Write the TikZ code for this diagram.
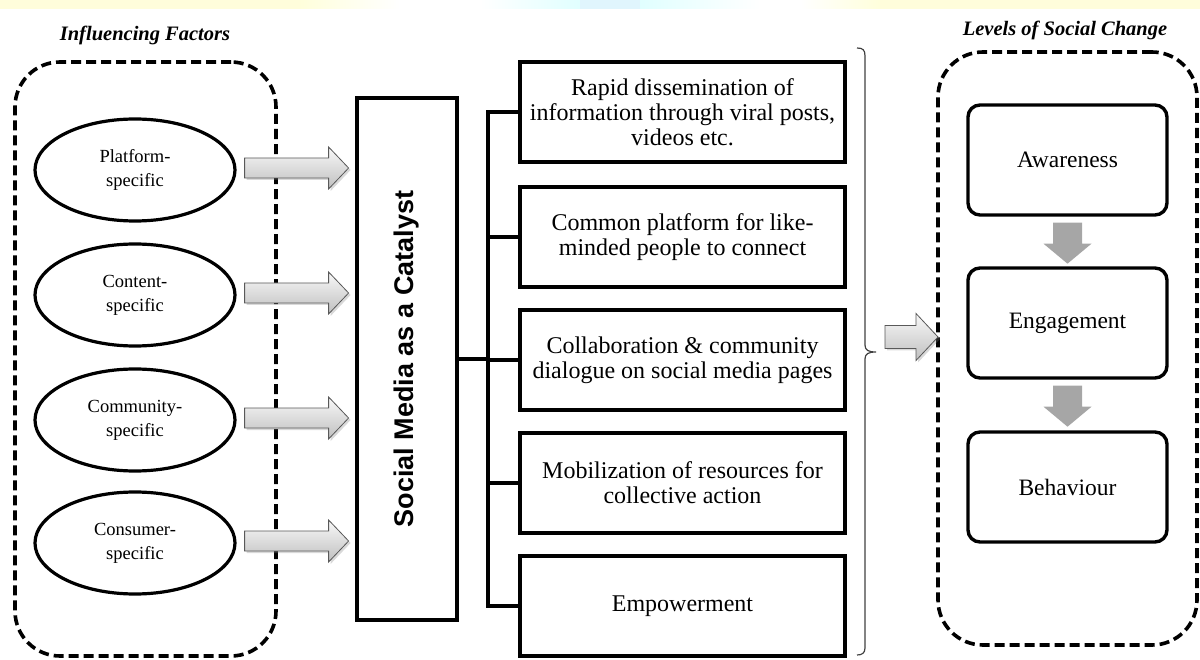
\documentclass[tikz,border=0pt]{standalone}
\usepackage{fontspec}
\setmainfont{Liberation Serif}
\setsansfont{Liberation Sans}
\usetikzlibrary{shapes.geometric,shadows,calc}
\newcommand{\myblockarrow}[5]{%
  \path[blockarr] (#1) ++(0,-#3) -- ++({#2-#5},0) -- ++(0,{-(#4-#3)}) -- ++(#5,#4) -- ++(-#5,#4) -- ++(0,{-(#4-#3)}) -- ++({-(#2-#5)},0) -- cycle;}
\newcommand{\mydownarrow}[1]{%
  \path[downarr] (#1) ++(-14.5,0) -- ++(29,0) -- ++(0,21) -- ++(9.5,0) -- ++(-24,20) -- ++(-24,-20) -- ++(9.5,0) -- cycle;}
\begin{document}
\begin{tikzpicture}[x=1pt,y=-1pt,
  dashbox/.style={draw, line width=3.6pt, dash pattern=on 10pt off 5pt, rounded corners=45pt, inner sep=0},
  fact/.style={ellipse, draw, line width=3.2pt, minimum width=200pt, minimum height=102pt, inner sep=0,
    font=\fontsize{18.5}{24}\selectfont, align=center},
  item/.style={draw, line width=3.4pt, minimum width=325pt, minimum height=100pt, inner sep=2pt,
    font=\fontsize{24}{25}\selectfont, align=center},
  level/.style={draw, line width=3.4pt, rounded corners=12pt, minimum width=199pt, minimum height=110pt,
    font=\fontsize{23.5}{25}\selectfont},
  link/.style={line width=3.2pt},
  blockarr/.style={draw=gray!70!black, line width=0.8pt, top color=gray!5, bottom color=gray!50,
    drop shadow={opacity=0.3, shadow xshift=2pt, shadow yshift=-2pt}},
  downarr/.style={fill=black!35},
  title/.style={font=\bfseries\itshape\fontsize{20.5}{22}\selectfont},
  bracket/.style={draw=black!75, line width=1.2pt}
]
\useasboundingbox (0,0) rectangle (1200,660);

% faint top band
\fill[yellow!14] (0,0) rectangle (300,9);
\shade[left color=yellow!14, right color=white] (300,0) rectangle (400,9);
\shade[left color=white, right color=cyan!12] (480,0) rectangle (580,9);
\shade[left color=cyan!12, right color=white] (640,0) rectangle (760,9);
\fill[cyan!12] (580,0) rectangle (640,9);
\shade[left color=white, right color=yellow!14] (800,0) rectangle (880,9);
\fill[yellow!14] (880,0) rectangle (1200,9);

% titles
\node[title] (tl) at (145,35) {Influencing Factors};
\node[title] (tr) at (1065,30) {Levels of Social Change};

% dashed groups
\node[dashbox, minimum width=261pt, minimum height=594pt] (lg) at (145.5,359) {};
\node[dashbox, minimum width=259pt, minimum height=593pt] (rg) at (1067.5,348.5) {};

% factors
\node[fact] (e1) at (135,170) {Platform-\\specific};
\node[fact] (e2) at (135,295) {Content-\\specific};
\node[fact] (e3) at (135,420) {Community-\\specific};
\node[fact] (e4) at (135,543) {Consumer-\\specific};

% catalyst box
\node[draw, line width=3.4pt, minimum width=100pt, minimum height=522pt, inner sep=0] (sm) at (407,359) {};
\node[rotate=90, font=\sffamily\bfseries\fontsize{27}{30}\selectfont] (smt) at (sm.center) {Social Media as a Catalyst};

% arrows into catalyst
\foreach \e in {e1,e2,e3,e4}{ \myblockarrow{$(\e.east)+(8,-2)$}{104}{10}{21}{20} }

% outcome boxes
\node[item] (b1) at (682.5,112) {Rapid dissemination of\\information through viral posts,\\videos etc.};
\node[item] (b2) at (682.5,237) {Common platform for like-\\minded people to connect};
\node[item] (b3) at (682.5,360) {Collaboration \& community\\dialogue on social media pages};
\node[item] (b4) at (682.5,483) {Mobilization of resources for\\collective action};
\node[item] (b5) at (682.5,606) {Empowerment};

% tree connector
\coordinate (tk) at (488,0);
\draw[link] (sm.east) -- (sm.east -| tk);
\draw[link] (b1.west) -- (b1.west -| tk) -- (b5.west -| tk) -- (b5.west);
\draw[link] (b2.west -| tk) -- (b2.west);
\draw[link] (b3.west -| tk) -- (b3.west);
\draw[link] (b4.west -| tk) -- (b4.west);

% bracket
\coordinate (bt) at (857,48);
\coordinate (bb) at (857,655);
\coordinate (bm) at (876,352);
\path[bracket] (bt) .. controls (863,48) and (865,50) .. (865,56) -- (865,345)
  .. controls (865,350) and (868,352) .. (bm)
  .. controls (868,352) and (865,354) .. (865,359) -- (865,648)
  .. controls (865,653) and (862,655) .. (bb);

% arrow into levels
\myblockarrow{885,337}{53}{11.5}{23.5}{22}

% levels
\node[level] (l1) at (1067.5,160) {Awareness};
\node[level] (l2) at (1067.5,323) {Engagement};
\node[level] (l3) at (1067.5,487) {Behaviour};
\mydownarrow{$(l1.south)+(0,6)$}
\mydownarrow{$(l2.south)+(0,6)$}
\end{tikzpicture}
\end{document}
